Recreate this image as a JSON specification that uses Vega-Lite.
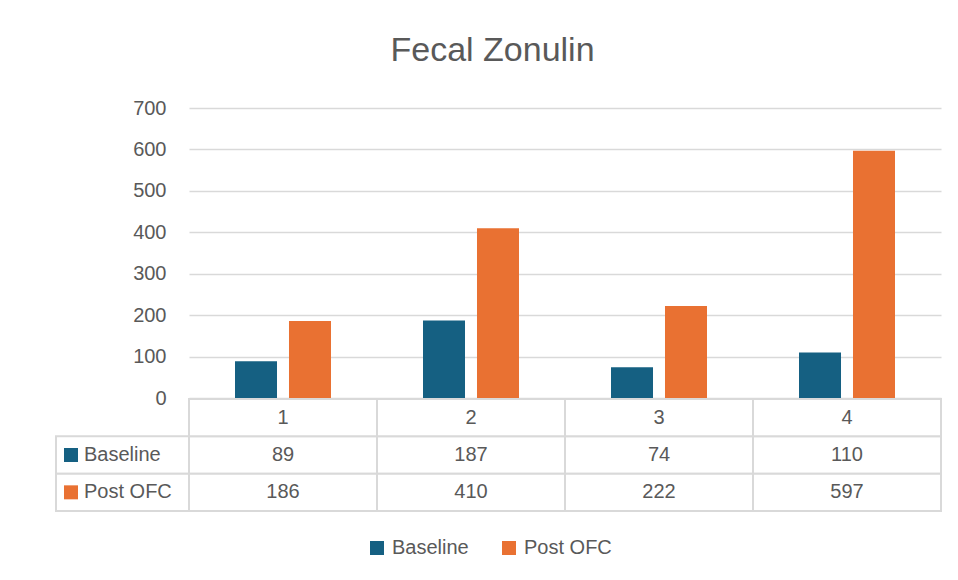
{
  "$schema": "https://vega.github.io/schema/vega-lite/v6.json",
  "background": "white",
  "padding": {"left": 55, "top": 34, "right": 18, "bottom": 10},
  "title": {"text": "Fecal Zonulin", "fontSize": 34, "font": "Liberation Sans", "fontWeight": "normal", "color": "#595959", "anchor": "middle", "offset": 30, "dx": -6},
  "data": {"values": [
    {"cat": "1", "series": "Baseline", "value": 89},
    {"cat": "2", "series": "Baseline", "value": 187},
    {"cat": "3", "series": "Baseline", "value": 74},
    {"cat": "4", "series": "Baseline", "value": 110},
    {"cat": "1", "series": "Post OFC", "value": 186},
    {"cat": "2", "series": "Post OFC", "value": 410},
    {"cat": "3", "series": "Post OFC", "value": 222},
    {"cat": "4", "series": "Post OFC", "value": 597}
  ]},
  "columns": 1,
  "align": "none",
  "spacing": -10,
  "resolve": {"scale": {"color": "independent", "x": "independent", "y": "independent"}, "legend": {"color": "independent"}},
  "concat": [
    {
      "hconcat": [
        {
          "width": 133,
          "height": 290,
          "data": {"values": []},
          "mark": {"type": "point", "opacity": 0},
          "encoding": {}
        },
        {
          "width": 752,
          "height": 290,
          "mark": {"type": "bar"},
          "encoding": {
            "x": {"field": "cat", "type": "nominal", "axis": null, "scale": {"paddingInner": 0, "paddingOuter": 0}},
            "xOffset": {"field": "series", "type": "nominal", "scale": {"domain": ["Baseline", "Post OFC"], "paddingInner": 0.222, "paddingOuter": 0.852}},
            "y": {"field": "value", "type": "quantitative", "scale": {"domain": [0, 700], "nice": false},
              "axis": {"values": [0, 100, 200, 300, 400, 500, 600, 700], "title": null, "domain": false, "ticks": false,
                "labelFontSize": 20, "labelFont": "Liberation Sans", "labelColor": "#595959", "labelPadding": 23,
                "gridColor": "#d9d9d9", "gridWidth": 1.5}},
            "color": {"field": "series", "type": "nominal", "scale": {"domain": ["Baseline", "Post OFC"], "range": ["#156082", "#E97132"]}, "legend": null}
          }
        }
      ],
      "spacing": 0,
      "bounds": "flush",
      "resolve": {"scale": {"x": "independent", "y": "independent"}}
    },
    {
      "hconcat": [
        {
          "width": 133,
          "height": 112,
          "transform": [{"aggregate": [{"op": "count", "as": "n"}], "groupby": ["series"]}],
          "layer": [
            {
              "mark": {"type": "rect", "fill": "white", "stroke": "#d9d9d9", "strokeWidth": 2},
              "encoding": {
                "y": {"field": "series", "type": "nominal", "axis": null, "scale": {"domain": ["hdr", "Baseline", "Post OFC"], "paddingInner": 0, "paddingOuter": 0}}
              }
            },
            {
              "mark": {"type": "point", "shape": "square", "filled": true, "size": 196, "opacity": 1},
              "encoding": {
                "x": {"value": 15},
                "y": {"field": "series", "type": "nominal"},
                "color": {"field": "series", "type": "nominal", "scale": {"domain": ["Baseline", "Post OFC"], "range": ["#156082", "#E97132"]},
                  "legend": {"orient": "none", "legendX": 311, "legendY": 139, "direction": "horizontal", "title": null,
                    "symbolType": "square", "symbolSize": 196, "symbolStrokeWidth": 0, "labelFontSize": 20, "labelFont": "Liberation Sans",
                    "labelColor": "#595959", "columnPadding": 30, "labelOffset": 5, "padding": 0}}
              }
            },
            {
              "mark": {"type": "text", "align": "left", "baseline": "middle", "fontSize": 20, "font": "Liberation Sans", "color": "#595959"},
              "encoding": {
                "x": {"value": 28},
                "y": {"field": "series", "type": "nominal"},
                "text": {"field": "series"}
              }
            }
          ]
        },
        {
          "width": 752,
          "height": 112,
          "layer": [
            {
              "mark": {"type": "rect", "fill": "white", "stroke": "#d9d9d9", "strokeWidth": 2},
              "encoding": {
                "x": {"field": "cat", "type": "nominal", "axis": null, "scale": {"paddingInner": 0, "paddingOuter": 0}},
                "y": {"field": "series", "type": "nominal", "axis": null, "scale": {"domain": ["hdr", "Baseline", "Post OFC"], "paddingInner": 0, "paddingOuter": 0}}
              }
            },
            {
              "mark": {"type": "text", "align": "center", "baseline": "middle", "fontSize": 20, "font": "Liberation Sans", "color": "#595959"},
              "encoding": {
                "x": {"field": "cat", "type": "nominal"},
                "y": {"field": "series", "type": "nominal"},
                "text": {"field": "value", "type": "quantitative"}
              }
            },
            {
              "transform": [{"aggregate": [{"op": "count", "as": "n"}], "groupby": ["cat"]}],
              "layer": [
                {
                  "mark": {"type": "rect", "fill": "white", "stroke": "#d9d9d9", "strokeWidth": 2},
                  "encoding": {
                    "x": {"field": "cat", "type": "nominal"},
                    "y": {"datum": "hdr", "type": "nominal"}
                  }
                },
                {
                  "mark": {"type": "text", "align": "center", "baseline": "middle", "fontSize": 20, "font": "Liberation Sans", "color": "#595959"},
                  "encoding": {
                    "x": {"field": "cat", "type": "nominal"},
                    "y": {"datum": "hdr", "type": "nominal"},
                    "text": {"field": "cat"}
                  }
                }
              ]
            }
          ]
        }
      ],
      "spacing": 0,
      "bounds": "flush",
      "resolve": {"scale": {"color": "independent", "y": "independent", "x": "independent"}, "legend": {"color": "independent"}}
    }
  ],
  "config": {"view": {"stroke": null}}
}
